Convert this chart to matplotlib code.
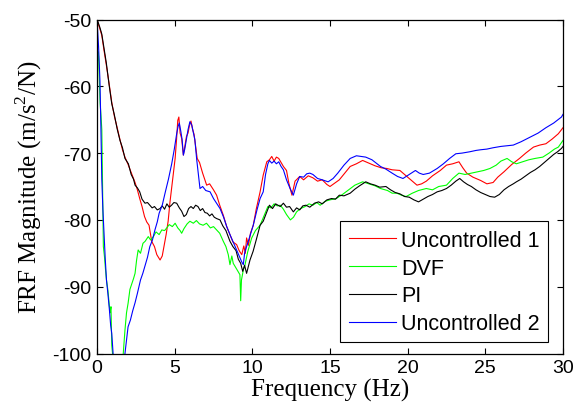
import matplotlib
matplotlib.use("Agg")
import matplotlib.pyplot as plt

# ── data ──────────────────────────────────────

uc1_freq = [0.0, 0.1, 0.2, 0.31, 0.45, 0.6, 0.78, 0.95, 1.12, 1.3, 1.48, 1.64, 1.8, 2.0, 2.15,
            2.3, 2.45, 2.6, 2.75, 2.9, 3.06, 3.2, 3.35, 3.52, 3.7, 3.85, 4.06, 4.2, 4.32, 4.45,
            4.58, 4.7, 4.82, 4.93, 5.03, 5.12, 5.2, 5.27, 5.35, 5.45, 5.56, 5.66, 5.76, 5.86,
            5.95, 6.05, 6.15, 6.25, 6.35, 6.45, 6.6, 6.8, 7.06, 7.25, 7.5, 7.7, 7.9, 8.13, 8.35,
            8.56, 8.75, 8.99, 9.15, 9.32, 9.45, 9.55, 9.63, 9.75, 9.88, 10.06, 10.25, 10.5, 10.7,
            10.93, 11.1, 11.25, 11.4, 11.55, 11.7, 11.85, 12.0, 12.2, 12.35, 12.55, 12.75, 13.05,
            13.3, 13.6, 13.9, 14.2, 14.5, 14.8, 15.0, 15.3, 15.6, 15.95, 16.3, 16.7, 17.1, 17.5,
            17.9, 18.3, 18.65, 19.0, 19.5, 19.85, 20.2, 20.6, 20.9, 21.2, 21.6, 22.1, 22.5, 22.9,
            23.3, 23.55, 23.8, 24.2, 24.7, 25.1, 25.5, 25.8, 26.2, 26.7, 27.2, 27.6, 28.1, 28.5,
            28.9, 29.3, 29.7, 30.0]
uc1_mag = [-50.0, -50.8, -51.5, -52.4, -54.6, -56.8, -59.6, -62.4, -64.5, -66.2, -68.0, -69.5,
           -70.6, -71.7, -72.6, -73.5, -74.4, -75.5, -76.8, -78.0, -79.5, -80.3, -80.8, -83.2,
           -84.0, -85.2, -86.0, -85.4, -83.9, -82.2, -80.2, -77.3, -74.9, -72.6, -70.8, -68.0,
           -65.1, -64.6, -67.0, -67.8, -70.3, -68.9, -67.5, -67.0, -65.9, -65.2, -66.4, -67.2,
           -69.0, -70.8, -71.4, -73.0, -74.8, -74.6, -75.5, -76.3, -77.8, -79.3, -81.0, -82.2,
           -83.3, -83.7, -84.6, -85.2, -83.9, -85.0, -82.7, -83.8, -82.0, -80.8, -78.4, -75.8,
           -73.3, -71.3, -71.0, -70.5, -71.2, -70.6, -70.8, -71.4, -72.0, -72.6, -74.5, -76.3,
           -74.2, -73.5, -74.0, -73.4, -73.7, -74.2, -74.0, -74.7, -75.0, -74.5, -74.0, -73.0,
           -72.0, -71.6, -71.1, -71.5, -71.9, -72.2, -72.3, -72.5, -72.6, -73.3, -74.0, -74.8,
           -74.6, -74.2, -73.4, -72.6, -71.8, -71.6, -71.3, -72.2, -73.0, -73.6, -74.1, -74.6,
           -74.4, -73.6, -72.8, -71.7, -70.8, -70.0, -69.1, -68.8, -68.6, -67.9, -67.1, -66.2]

dvf_freq = [0.0, 0.03, 0.06, 0.1, 0.15, 0.2, 0.26, 0.31, 0.36, 0.41, 0.48, 0.55, 0.61, 0.7,
            0.78, 0.84, 0.9, 0.95, 1.02, 1.2, 1.45, 1.69, 1.8, 1.9, 2.0, 2.12, 2.25, 2.35, 2.45,
            2.55, 2.65, 2.8, 2.96, 3.1, 3.3, 3.45, 3.63, 3.8, 4.0, 4.17, 4.35, 4.49, 4.65, 4.85,
            5.03, 5.2, 5.35, 5.45, 5.6, 5.8, 5.98, 6.2, 6.4, 6.6, 6.83, 7.05, 7.3, 7.5, 7.7, 7.9,
            8.13, 8.3, 8.45, 8.56, 8.68, 8.77, 8.9, 9.05, 9.2, 9.25, 9.3, 9.42, 9.53, 9.7, 9.96,
            10.2, 10.5, 10.75, 11.0, 11.2, 11.4, 11.6, 11.8, 12.0, 12.2, 12.45, 12.65, 12.85,
            13.1, 13.4, 13.65, 13.9, 14.15, 14.37, 14.7, 15.0, 15.4, 15.8, 16.2, 16.6, 17.1,
            17.5, 17.9, 18.25, 18.7, 19.0, 19.3, 19.6, 19.9, 20.3, 20.7, 21.2, 21.6, 22.0, 22.5,
            22.9, 23.3, 23.7, 24.1, 24.5, 24.9, 25.3, 25.7, 26.0, 26.4, 26.7, 27.0, 27.4, 27.8,
            28.2, 28.7, 29.1, 29.45, 29.7, 30.0]
dvf_mag = [-53.7, -56.2, -54.8, -55.5, -59.0, -62.5, -64.5, -66.5, -75.0, -84.0, -85.5, -87.5,
           -89.0, -90.5, -92.5, -93.9, -93.0, -98.8, -100.5, -104.0, -104.5, -100.0, -96.5,
           -93.9, -92.5, -90.4, -89.5, -88.8, -88.0, -86.0, -84.5, -85.0, -83.5, -83.2, -82.5,
           -83.0, -82.5, -81.8, -82.2, -81.5, -81.6, -81.2, -80.7, -81.0, -80.5, -81.2, -81.6,
           -82.0, -81.3, -80.6, -80.2, -80.5, -80.1, -80.6, -80.8, -80.5, -81.2, -81.0, -81.5,
           -82.0, -83.2, -84.0, -85.2, -86.7, -85.4, -86.5, -87.0, -87.6, -88.2, -92.1, -89.0,
           -87.5, -86.7, -84.8, -82.7, -81.6, -80.8, -79.4, -78.0, -78.2, -77.6, -77.9, -77.8,
           -78.4, -79.2, -80.0, -79.6, -78.8, -78.3, -78.0, -77.6, -77.8, -77.4, -77.8, -77.2,
           -77.0, -76.8, -76.2, -75.5, -74.8, -74.3, -74.6, -74.9, -75.3, -75.6, -76.0, -76.0,
           -76.3, -76.5, -76.0, -75.6, -75.3, -75.5, -75.0, -74.8, -73.8, -73.0, -73.2, -73.0,
           -72.8, -72.6, -72.3, -71.8, -71.2, -70.8, -71.3, -71.6, -71.3, -71.0, -70.8, -70.6,
           -70.0, -69.4, -69.1, -68.1]

pi_freq = [0.0, 0.1, 0.2, 0.31, 0.45, 0.6, 0.78, 0.95, 1.12, 1.3, 1.48, 1.64, 1.8, 2.02, 2.2,
           2.35, 2.45, 2.6, 2.75, 2.9, 3.09, 3.25, 3.4, 3.55, 3.7, 3.88, 4.06, 4.2, 4.35, 4.5,
           4.65, 4.8, 4.95, 5.13, 5.3, 5.45, 5.6, 5.75, 5.9, 6.05, 6.2, 6.35, 6.5, 6.65, 6.8,
           6.95, 7.1, 7.25, 7.4, 7.55, 7.7, 7.92, 8.1, 8.3, 8.56, 8.75, 8.95, 9.1, 9.25, 9.38,
           9.5, 9.63, 9.72, 9.85, 10.05, 10.25, 10.5, 10.7, 10.9, 11.1, 11.3, 11.5, 11.8, 12.0,
           12.2, 12.4, 12.64, 12.85, 13.05, 13.25, 13.45, 13.7, 14.0, 14.27, 14.5, 14.8, 15.1,
           15.35, 15.6, 15.9, 16.3, 16.6, 16.9, 17.3, 17.6, 17.9, 18.2, 18.6, 18.9, 19.2, 19.5,
           19.8, 20.1, 20.4, 20.7, 21.0, 21.3, 21.6, 21.9, 22.2, 22.5, 22.8, 23.1, 23.35, 23.6,
           23.85, 24.1, 24.4, 24.7, 25.0, 25.3, 25.6, 25.9, 26.2, 26.5, 26.8, 27.0, 27.3, 27.6,
           27.9, 28.2, 28.5, 28.8, 29.1, 29.4, 29.65, 29.9, 30.0]
pi_mag = [-50.0, -50.6, -51.3, -52.2, -54.3, -56.5, -59.8, -62.6, -64.3, -66.4, -68.1, -69.2,
          -70.8, -71.6, -73.2, -73.9, -74.8, -75.2, -75.8, -76.9, -77.5, -77.4, -77.8, -78.2,
          -78.0, -78.5, -78.3, -77.9, -78.4, -77.6, -78.1, -77.8, -77.4, -77.5, -78.2, -78.7,
          -79.5, -79.2, -78.3, -78.0, -78.3, -77.8, -78.0, -78.6, -78.3, -78.9, -79.0, -79.4,
          -79.1, -79.6, -79.8, -80.0, -80.9, -81.6, -83.2, -84.0, -84.6, -85.9, -86.5, -87.7,
          -86.8, -88.0, -87.2, -86.0, -84.7, -83.0, -80.8, -80.2, -79.0, -77.8, -78.3, -77.6,
          -78.0, -77.5, -78.1, -78.0, -78.8, -78.2, -78.5, -77.9, -77.8, -78.1, -77.5, -77.3,
          -77.6, -77.0, -76.8, -76.9, -76.3, -76.4, -76.0, -75.4, -74.9, -74.3, -74.6, -74.8,
          -75.1, -75.0, -75.5, -75.9, -76.1, -76.5, -76.6, -77.0, -77.3, -76.9, -76.5, -76.2,
          -75.8, -75.6, -75.3, -74.8, -74.2, -73.8, -74.3, -74.7, -75.0, -75.5, -75.9, -76.2,
          -76.5, -76.6, -76.2, -75.5, -75.0, -74.6, -74.3, -73.9, -73.4, -72.9, -72.5, -72.0,
          -71.4, -70.8, -70.2, -69.8, -69.3, -69.0]

uc2_freq = [0.0, 0.04, 0.1, 0.19, 0.25, 0.31, 0.38, 0.45, 0.53, 0.61, 0.7, 0.8, 0.88, 0.95,
            1.05, 1.2, 1.45, 1.7, 1.8, 1.9, 2.0, 2.15, 2.3, 2.45, 2.6, 2.8, 2.95, 3.09, 3.25,
            3.4, 3.57, 3.73, 3.88, 4.0, 4.2, 4.38, 4.6, 4.81, 4.97, 5.13, 5.22, 5.3, 5.4, 5.48,
            5.56, 5.65, 5.75, 5.86, 5.98, 6.1, 6.2, 6.3, 6.42, 6.52, 6.63, 6.8, 7.0, 7.28, 7.5,
            7.7, 7.92, 8.15, 8.35, 8.56, 8.8, 9.0, 9.2, 9.32, 9.42, 9.5, 9.6, 9.74, 9.9, 10.06,
            10.3, 10.5, 10.7, 10.85, 11.0, 11.1, 11.25, 11.4, 11.55, 11.7, 11.85, 12.0, 12.2,
            12.43, 12.64, 12.85, 13.05, 13.3, 13.5, 13.7, 13.9, 14.2, 14.5, 14.88, 15.2, 15.5,
            15.9, 16.3, 16.7, 17.0, 17.3, 17.7, 18.25, 18.6, 19.0, 19.35, 19.7, 20.1, 20.5,
            20.75, 21.0, 21.4, 21.9, 22.3, 22.7, 23.1, 23.5, 24.0, 24.4, 24.7, 25.1, 25.5, 26.0,
            26.4, 26.8, 27.3, 27.9, 28.4, 28.9, 29.4, 29.9, 30.0]
uc2_mag = [-50.0, -51.5, -54.0, -59.2, -66.0, -74.0, -78.5, -82.0, -85.8, -89.0, -91.0, -93.5,
           -95.8, -97.0, -100.5, -103.0, -104.0, -102.5, -100.0, -98.0, -96.0, -95.0, -93.6,
           -92.4, -91.0, -89.0, -88.0, -86.9, -85.6, -84.0, -83.0, -81.5, -80.3, -79.0, -77.8,
           -76.0, -73.9, -71.6, -69.5, -67.1, -66.0, -65.5, -66.8, -68.0, -70.3, -69.4, -68.0,
           -66.5, -65.3, -65.8, -66.9, -68.0, -71.0, -73.0, -75.3, -75.0, -75.6, -75.8, -76.8,
           -77.5, -78.3, -79.6, -81.0, -82.2, -83.5, -84.6, -85.7, -86.3, -86.7, -85.0, -84.2,
           -83.2, -82.0, -80.8, -78.5, -76.8, -75.8, -73.2, -71.6, -71.1, -71.5, -71.2, -71.6,
           -71.3, -72.0, -72.5, -74.0, -75.3, -76.3, -74.6, -73.5, -73.6, -73.1, -73.0, -73.2,
           -73.8, -74.0, -74.3, -73.8, -73.0, -71.8, -70.8, -70.4, -70.5, -70.6, -71.0, -72.0,
           -72.4, -73.0, -73.5, -73.8, -73.2, -72.6, -73.0, -73.2, -73.0, -72.3, -71.6, -70.8,
           -70.1, -70.0, -69.8, -69.6, -69.5, -69.4, -69.2, -69.0, -68.9, -68.8, -68.3, -67.6,
           -67.0, -66.2, -65.5, -64.6, -64.2]

series = [
    ("Uncontrolled 1", uc1_freq, uc1_mag, "#ff0000"),
    ("DVF", dvf_freq, dvf_mag, "#00ff00"),
    ("PI", pi_freq, pi_mag, "#000000"),
    ("Uncontrolled 2", uc2_freq, uc2_mag, "#0000ff"),
]

x_ticks = [0, 5, 10, 15, 20, 25, 30]
y_ticks = [-100, -90, -80, -70, -60, -50]

# ── plot ──────────────────────────────────────

plt.rcParams["axes.unicode_minus"] = False
plt.rcParams["font.family"] = ["Liberation Sans", "DejaVu Sans"]
plt.rcParams["mathtext.fontset"] = "custom"
plt.rcParams["mathtext.rm"] = "Liberation Serif"

fig = plt.figure(figsize=(5.82, 4.14), dpi=100)
ax = fig.add_axes([97 / 582, 1 - 354.5 / 414, 466 / 582, 334 / 414])

for label, f, m, color in series:
    ax.plot(f, m, color=color, lw=0.8, label=label)

ax.set_xlim(0, 30)
ax.set_ylim(-100, -50)
ax.set_xticks(x_ticks)
ax.set_yticks(y_ticks)
ax.tick_params(direction="in", top=True, right=True, length=4, width=0.8,
               labelsize=14, pad=4)
for sp in ax.spines.values():
    sp.set_linewidth(0.9)

serif = {"family": ["Liberation Serif", "DejaVu Serif"], "size": 18}
ax.set_xlabel("Frequency (Hz)", fontdict=serif, labelpad=1)
ax.set_ylabel(r"FRF Magnitude (m/s$^{2}$/N)", fontdict=serif, labelpad=6)

leg = ax.legend(loc="lower right", bbox_to_anchor=(0.968, 0.033), fontsize=15.5,
                frameon=True, fancybox=False, framealpha=1, edgecolor="black",
                handlelength=2.2, handletextpad=0.25, labelspacing=0.32,
                borderpad=0.38, borderaxespad=0)
leg.get_frame().set_linewidth(0.8)

fig.savefig("out.png", dpi=100)
plt.close(fig)
